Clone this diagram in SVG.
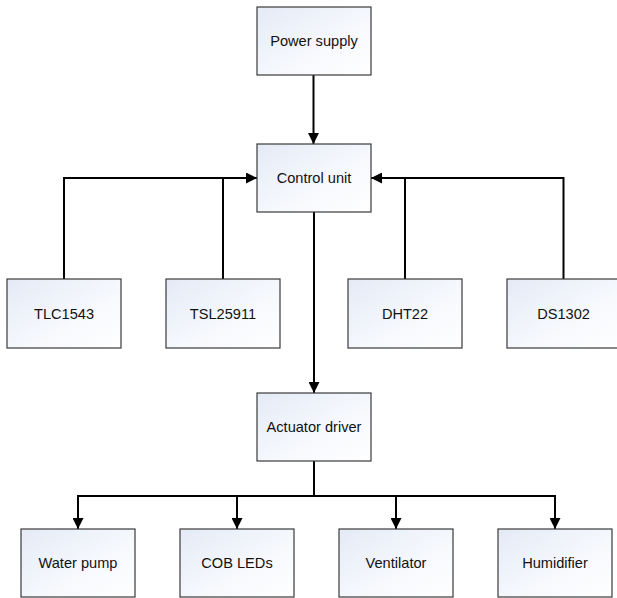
<svg xmlns="http://www.w3.org/2000/svg" width="617" height="598" viewBox="0 0 617 598">
<defs>
<linearGradient id="fill" x1="0" y1="0" x2="1" y2="1">
<stop offset="0" stop-color="#e4eaf6"/>
<stop offset="0.6" stop-color="#f7f9fd"/>
<stop offset="1" stop-color="#ffffff"/>
</linearGradient>
<marker id="arr" viewBox="0 0 11 11" refX="11" refY="5.5" markerWidth="11" markerHeight="11" markerUnits="userSpaceOnUse" orient="auto">
<path d="M0,0 L11,5.5 L0,11 Z" fill="#000"/>
</marker>
<style>
.box{fill:url(#fill);stroke:#3a3a3a;stroke-width:1.2}
.lbl{font-family:"Liberation Sans",Arial,sans-serif;font-size:14.6px;fill:#111;text-anchor:middle;dominant-baseline:central}
.c{fill:none;stroke:#000;stroke-width:2}
</style>
</defs>
<rect width="617" height="598" fill="#fff"/>
<g id="connectors">
<path class="c" d="M313.5,75 V144" marker-end="url(#arr)"/>
<path class="c" d="M64,279 V178 H257" marker-end="url(#arr)"/>
<path class="c" d="M223,279 V178"/>
<path class="c" d="M563.5,279 V178 H371" marker-end="url(#arr)"/>
<path class="c" d="M405,279 V178"/>
<path class="c" d="M314,212 V393" marker-end="url(#arr)"/>
<path class="c" d="M314,461 V496"/>
<path class="c" d="M78,496 H555"/>
<path class="c" d="M78,495 V529" marker-end="url(#arr)"/>
<path class="c" d="M237,495 V529" marker-end="url(#arr)"/>
<path class="c" d="M396,495 V529" marker-end="url(#arr)"/>
<path class="c" d="M555,495 V529" marker-end="url(#arr)"/>
</g>
<g id="power"><rect class="box" x="257" y="7" width="114" height="68"/><text class="lbl" x="314" y="41">Power supply</text></g>
<g id="control"><rect class="box" x="257" y="144" width="114" height="68"/><text class="lbl" x="314" y="178">Control unit</text></g>
<g id="tlc1543"><rect class="box" x="7" y="279" width="114" height="69"/><text class="lbl" x="64" y="313.5">TLC1543</text></g>
<g id="tsl25911"><rect class="box" x="166" y="279" width="114" height="69"/><text class="lbl" x="223" y="313.5">TSL25911</text></g>
<g id="dht22"><rect class="box" x="348" y="279" width="114" height="69"/><text class="lbl" x="405" y="313.5">DHT22</text></g>
<g id="ds1302"><rect class="box" x="507" y="279" width="114" height="69"/><text class="lbl" x="563.5" y="313.5">DS1302</text></g>
<g id="actuator"><rect class="box" x="257" y="393" width="114" height="68"/><text class="lbl" x="314" y="427">Actuator driver</text></g>
<g id="pump"><rect class="box" x="21" y="529" width="114" height="68"/><text class="lbl" x="78" y="563">Water pump</text></g>
<g id="leds"><rect class="box" x="180" y="529" width="114" height="68"/><text class="lbl" x="237" y="563">COB LEDs</text></g>
<g id="ventilator"><rect class="box" x="339" y="529" width="114" height="68"/><text class="lbl" x="396" y="563">Ventilator</text></g>
<g id="humidifier"><rect class="box" x="498" y="529" width="114" height="68"/><text class="lbl" x="555" y="563">Humidifier</text></g>
</svg>
